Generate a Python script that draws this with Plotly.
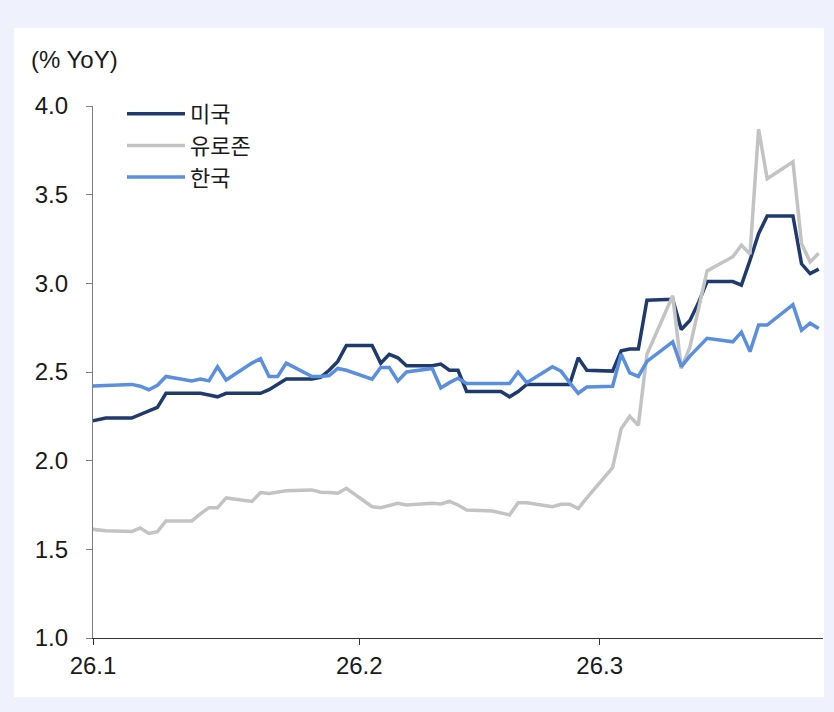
import plotly.graph_objects as go

# Business-day observations (last print of 2025 through late March 2026)
dates = [
    "2025-12-31",
    "2026-01-02", "2026-01-05", "2026-01-06", "2026-01-07", "2026-01-08", "2026-01-09",
    "2026-01-12", "2026-01-13", "2026-01-14", "2026-01-15", "2026-01-16",
    "2026-01-19", "2026-01-20", "2026-01-21", "2026-01-22", "2026-01-23",
    "2026-01-26", "2026-01-27", "2026-01-28", "2026-01-29", "2026-01-30",
    "2026-02-02", "2026-02-03", "2026-02-04", "2026-02-05", "2026-02-06",
    "2026-02-09", "2026-02-10", "2026-02-11", "2026-02-12", "2026-02-13",
    "2026-02-16", "2026-02-17", "2026-02-18", "2026-02-19", "2026-02-20",
    "2026-02-23", "2026-02-24", "2026-02-25", "2026-02-26", "2026-02-27",
    "2026-03-02", "2026-03-03", "2026-03-04", "2026-03-05", "2026-03-06",
    "2026-03-09", "2026-03-10", "2026-03-11", "2026-03-12", "2026-03-13",
    "2026-03-16", "2026-03-17", "2026-03-18", "2026-03-19", "2026-03-20",
    "2026-03-23", "2026-03-24", "2026-03-25", "2026-03-26",
]

us = [
    2.22,
    2.24, 2.24, 2.26, 2.28, 2.30, 2.38,
    2.38, 2.38, 2.37, 2.36, 2.38,
    2.38, 2.38, 2.40, 2.43, 2.46,
    2.46, 2.47, 2.51, 2.56, 2.65,
    2.65, 2.55, 2.60, 2.58, 2.535,
    2.535, 2.545, 2.51, 2.51, 2.39,
    2.39, 2.39, 2.36, 2.39, 2.43,
    2.43, 2.43, 2.43, 2.58, 2.51,
    2.505, 2.62, 2.63, 2.63, 2.905,
    2.91, 2.74, 2.79, 2.89, 3.01,
    3.01, 2.99, 3.13, 3.28, 3.38,
    3.38, 3.11, 3.055, 3.08,
]

euro = [
    1.615,
    1.605, 1.60, 1.62, 1.59, 1.60, 1.66,
    1.66, 1.70, 1.735, 1.735, 1.79,
    1.77, 1.82, 1.815, 1.825, 1.83,
    1.835, 1.822, 1.82, 1.816, 1.844,
    1.74, 1.735, 1.75, 1.76, 1.75,
    1.76, 1.756, 1.77, 1.75, 1.722,
    1.716, 1.705, 1.694, 1.763, 1.763,
    1.74, 1.754, 1.754, 1.73, 1.79,
    1.96, 2.18, 2.25, 2.20, 2.60,
    2.93, 2.52, 2.64, 2.86, 3.07,
    3.15, 3.215, 3.165, 3.87, 3.59,
    3.685, 3.225, 3.12, 3.17,
]

korea = [
    2.42,
    2.425, 2.43, 2.42, 2.40, 2.425, 2.475,
    2.45, 2.46, 2.45, 2.53, 2.455,
    2.55, 2.575, 2.475, 2.475, 2.55,
    2.475, 2.475, 2.48, 2.52, 2.51,
    2.46, 2.525, 2.525, 2.45, 2.50,
    2.52, 2.41, 2.44, 2.465, 2.435,
    2.435, 2.435, 2.435, 2.50, 2.44,
    2.53, 2.505, 2.44, 2.38, 2.415,
    2.42, 2.60, 2.495, 2.475, 2.56,
    2.67, 2.53, 2.59, 2.64, 2.69,
    2.67, 2.725, 2.615, 2.765, 2.765,
    2.88, 2.735, 2.775, 2.745,
]

series_names = ["미국", "유로존", "한국"]
series_colors = ["#1f3a6d", "#c3c3c3", "#5a8edf"]

month_ticks = ["2025-12-31 12:00", "2026-01-31 12:00", "2026-02-28 12:00"]
month_labels = ["26.1", "26.2", "26.3"]
y_ticks = [1.0, 1.5, 2.0, 2.5, 3.0, 3.5, 4.0]

FONT = "Liberation Sans, Arial, Noto Sans CJK KR, sans-serif"
W, H = 834, 712
ML, MR, MT, MB = 93, 11, 106, 74
PW, PH = W - ML - MR, H - MT - MB


def px_to_paper_x(px):
    return (px - ML) / PW


def px_to_paper_y(py):
    return (H - MB - py) / PH


fig = go.Figure()
for name, vals, color in zip(series_names, [us, euro, korea], series_colors):
    fig.add_trace(go.Scatter(
        x=dates, y=vals, mode="lines", name=name,
        line=dict(color=color, width=3.5),
    ))

fig.update_layout(
    width=W, height=H,
    margin=dict(l=ML, r=MR, t=MT, b=MB, pad=0),
    paper_bgcolor="#eff2fd",
    plot_bgcolor="white",
    font=dict(family=FONT, size=24, color="#1a1a1a"),
    showlegend=True,
    legend=dict(
        x=px_to_paper_x(122), y=px_to_paper_y(93),
        xanchor="left", yanchor="top",
        bgcolor="rgba(0,0,0,0)", borderwidth=0,
        font=dict(family=FONT, size=22, color="#1a1a1a"),
        itemwidth=58, tracegroupgap=0,
    ),
    xaxis=dict(
        type="date",
        range=["2025-12-31 12:00", "2026-03-26 12:00"],
        tickvals=month_ticks, ticktext=month_labels,
        ticks="outside", ticklen=6, tickwidth=1, tickcolor="#333333",
        showline=True, linecolor="#333333", linewidth=1.2,
        showgrid=False, zeroline=False,
        tickfont=dict(size=24),
    ),
    yaxis=dict(
        range=[1.0, 4.0],
        tickvals=y_ticks, tickformat=".1f",
        ticks="outside", ticklen=6, tickwidth=1, tickcolor="#7f7f7f",
        showline=True, linecolor="#7f7f7f", linewidth=1.2,
        showgrid=False, zeroline=False,
        tickfont=dict(size=24),
        ticklabelstandoff=13,
    ),
    shapes=[dict(
        type="rect", xref="paper", yref="paper", layer="below",
        x0=px_to_paper_x(14), x1=px_to_paper_x(824),
        y0=px_to_paper_y(697), y1=px_to_paper_y(28),
        fillcolor="white", line=dict(width=0),
    )],
    annotations=[dict(
        text="(% YoY)", xref="paper", yref="paper",
        x=px_to_paper_x(29), y=px_to_paper_y(60),
        xanchor="left", yanchor="middle", showarrow=False,
        font=dict(family=FONT, size=24, color="#1a1a1a"),
    )],
)

fig.write_html("out.html")
